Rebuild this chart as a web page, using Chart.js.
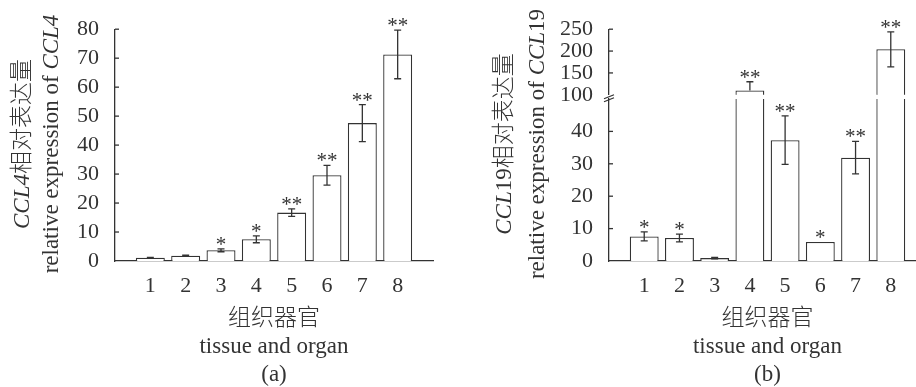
<!DOCTYPE html>
<html>
<head>
<meta charset="utf-8">
<script src="https://cdn.jsdelivr.net/npm/chart.js@4.4.0/dist/chart.umd.min.js"></script>
<style>
  html, body { margin: 0; padding: 0; background: #fff; width: 916px; height: 387px; overflow: hidden; }
  canvas { position: absolute; top: 0; }
  #chartA { left: 0; }
  #chartBLow, #chartBHigh { left: 458px; }
</style>
</head>
<body>
<canvas id="chartA" width="458" height="387"></canvas>
<canvas id="chartBLow" width="481" height="387"></canvas>
<canvas id="chartBHigh" width="481" height="124"></canvas>
<script>
// Tissues on the x axis
const categories = ['1', '2', '3', '4', '5', '6', '7', '8'];

// (a) CCL4
const ccl4Values = [1.1, 1.8, 3.7, 7.5, 16.7, 29.6, 47.6, 71.3];
const ccl4Errors = [0.1, 0.2, 0.5, 1.2, 1.3, 3.4, 6.4, 8.4];
const ccl4Marks = ['', '', '*', '*', '**', '**', '**', '**'];
const ccl4Ticks = [0, 10, 20, 30, 40, 50, 60, 70, 80];

// (b) CCL19, y axis broken between 50 and 100
const ccl19Values = [7.6, 7.1, 0.9, 109.8, 37.3, 5.9, 31.9, 204];
const ccl19Errors = [1.4, 1.2, 0.2, 20, 7.5, 0, 5, 40];
const ccl19Marks = ['*', '*', '', '**', '**', '*', '**', '**'];
const ccl19LowTicks = [0, 10, 20, 30, 40];
const ccl19HighTicks = [100, 150, 200, 250];

const FONT = '"Liberation Serif", "Times New Roman", "Noto Sans CJK SC", serif';
const INK = '#333';

// one empty slot each side so the axis runs past the first and last bar
const xLabels = ['', ...categories, ''];
const pad = arr => [null, ...arr, null];

// error bars + significance stars
function errorBars(values, errors, marks) {
  return {
    id: 'errorBars',
    afterDatasetsDraw(chart) {
      const ctx = chart.ctx;
      const y = chart.scales.y;
      const bars = chart.getDatasetMeta(0).data;
      const inRange = v => v >= y.min && v <= y.max;
      ctx.save();
      ctx.strokeStyle = INK;
      ctx.fillStyle = INK;
      ctx.lineWidth = 1.3;
      values.forEach((v, i) => {
        const bar = bars[i + 1];
        if (!bar) return;
        const x = bar.x;
        const hi = v + errors[i], lo = v - errors[i];
        if (errors[i] > 0 && inRange(hi)) {
          const yHi = y.getPixelForValue(hi);
          const yLo = y.getPixelForValue(inRange(lo) ? lo : v);
          ctx.beginPath();
          ctx.moveTo(x, yHi); ctx.lineTo(x, yLo);
          ctx.moveTo(x - 3.5, yHi); ctx.lineTo(x + 3.5, yHi);
          if (inRange(lo)) { ctx.moveTo(x - 3.5, yLo); ctx.lineTo(x + 3.5, yLo); }
          ctx.stroke();
        }
        if (marks[i] && inRange(hi)) {
          ctx.font = '21px ' + FONT;
          ctx.textAlign = 'center';
          ctx.textBaseline = 'alphabetic';
          ctx.fillText(marks[i], x, y.getPixelForValue(hi) + 2);
        }
      });
      ctx.restore();
    }
  };
}

// small ticks pointing into the plot
const innerTicks = {
  id: 'innerTicks',
  afterDraw(chart) {
    const { ctx, chartArea } = chart;
    const y = chart.scales.y;
    ctx.save();
    ctx.strokeStyle = INK;
    ctx.lineWidth = 1.3;
    y.ticks.forEach((t, i) => {
      if (t.value === y.min) return;
      const py = y.getPixelForTick(i);
      ctx.beginPath();
      ctx.moveTo(chartArea.left, py);
      ctx.lineTo(chartArea.left + 4, py);
      ctx.stroke();
    });
    ctx.restore();
  }
};

// break sign on the y axis of (b)
const breakMark = {
  id: 'breakMark',
  afterDraw(chart) {
    const { ctx, chartArea: { left, bottom } } = chart;
    ctx.save();
    ctx.strokeStyle = INK;
    ctx.lineWidth = 1.2;
    ctx.beginPath();
    ctx.moveTo(left - 5, bottom + 4); ctx.lineTo(left + 5, bottom);
    ctx.moveTo(left - 5, bottom + 7); ctx.lineTo(left + 5, bottom + 3);
    ctx.stroke();
    ctx.restore();
  }
};

// rotated y title with italic gene names
function yTitle(lines, cy) {
  return {
    id: 'yTitle',
    afterDraw(chart) {
      const ctx = chart.ctx;
      const fontOf = p => (p.italic ? 'italic ' : '300 ') + '23px ' + FONT;
      lines.forEach(line => {
        ctx.save();
        ctx.translate(line.x, cy);
        ctx.rotate(-Math.PI / 2);
        ctx.textBaseline = 'middle';
        ctx.fillStyle = INK;
        let total = 0;
        line.parts.forEach(p => { ctx.font = fontOf(p); total += ctx.measureText(p.text).width; });
        let x = -total / 2;
        line.parts.forEach(p => {
          ctx.font = fontOf(p);
          ctx.fillText(p.text, x, 0);
          x += ctx.measureText(p.text).width;
        });
        ctx.restore();
      });
    }
  };
}

function barChart(id, o) {
  return new Chart(document.getElementById(id), {
    type: 'bar',
    data: {
      labels: xLabels,
      datasets: [{
        data: pad(o.values),
        backgroundColor: '#fff',
        borderColor: INK,
        borderWidth: 1.3,
        borderSkipped: 'start',
        barPercentage: 0.82,
        categoryPercentage: 1,
        clip: o.clip
      }]
    },
    options: {
      responsive: false,
      animation: false,
      events: [],
      layout: { padding: o.padding },
      plugins: { legend: { display: false }, tooltip: { enabled: false } },
      scales: {
        x: {
          display: o.showX,
          offset: false,
          grid: { display: false, drawTicks: false },
          border: { color: INK, width: 1.3 },
          ticks: { autoSkip: false, maxRotation: 0, padding: 12, color: INK, font: { family: FONT, size: 22 } },
          title: {
            display: true,
            text: ['组织器官', 'tissue and organ', o.tag],
            color: INK,
            padding: { top: 0, bottom: -2 },
            font: { family: FONT, size: 23, weight: '300', lineHeight: '28px' }
          },
          afterFit: s => { s.height = o.showX ? 126 : 0; }
        },
        y: {
          min: o.min,
          max: o.max,
          grid: { display: false, drawTicks: false },
          border: { color: INK, width: 1.3 },
          ticks: { autoSkip: false, padding: 16, color: INK, font: { family: FONT, size: 22 } },
          afterBuildTicks: s => { s.ticks = o.ticks.map(v => ({ value: v })); },
          afterFit: s => { s.width = 50; }
        }
      }
    },
    plugins: o.plugins
  });
}

barChart('chartA', {
  values: ccl4Values, min: 0, max: 80, ticks: ccl4Ticks, tag: '(a)', showX: true,
  padding: { left: 65, right: 25, top: 28, bottom: 0 },
  plugins: [
    innerTicks,
    errorBars(ccl4Values, ccl4Errors, ccl4Marks),
    yTitle([
      { x: 23, parts: [{ text: 'CCL4', italic: true }, { text: '相对表达量' }] },
      { x: 52, parts: [{ text: 'relative expression of ' }, { text: 'CCL4', italic: true }] }
    ], 144)
  ]
});

barChart('chartBLow', {
  values: ccl19Values, min: 0, max: 50, ticks: ccl19LowTicks, tag: '(b)', showX: true,
  clip: { left: false, right: false, top: 0, bottom: false },
  padding: { left: 101, right: 13, top: 99, bottom: 0 },
  plugins: [
    innerTicks,
    errorBars(ccl19Values, ccl19Errors, ccl19Marks),
    yTitle([
      { x: 47, parts: [{ text: 'CCL', italic: true }, { text: '19相对表达量' }] },
      { x: 80, parts: [{ text: 'relative expression of ' }, { text: 'CCL', italic: true }, { text: '19' }] }
    ], 144)
  ]
});

barChart('chartBHigh', {
  values: ccl19Values, min: 100, max: 250, ticks: ccl19HighTicks, tag: '(b)', showX: false,
  clip: { left: false, right: false, top: false, bottom: 0 },
  padding: { left: 101, right: 13, top: 28, bottom: 0 },
  plugins: [innerTicks, breakMark, errorBars(ccl19Values, ccl19Errors, ccl19Marks)]
});
</script>
</body>
</html>
